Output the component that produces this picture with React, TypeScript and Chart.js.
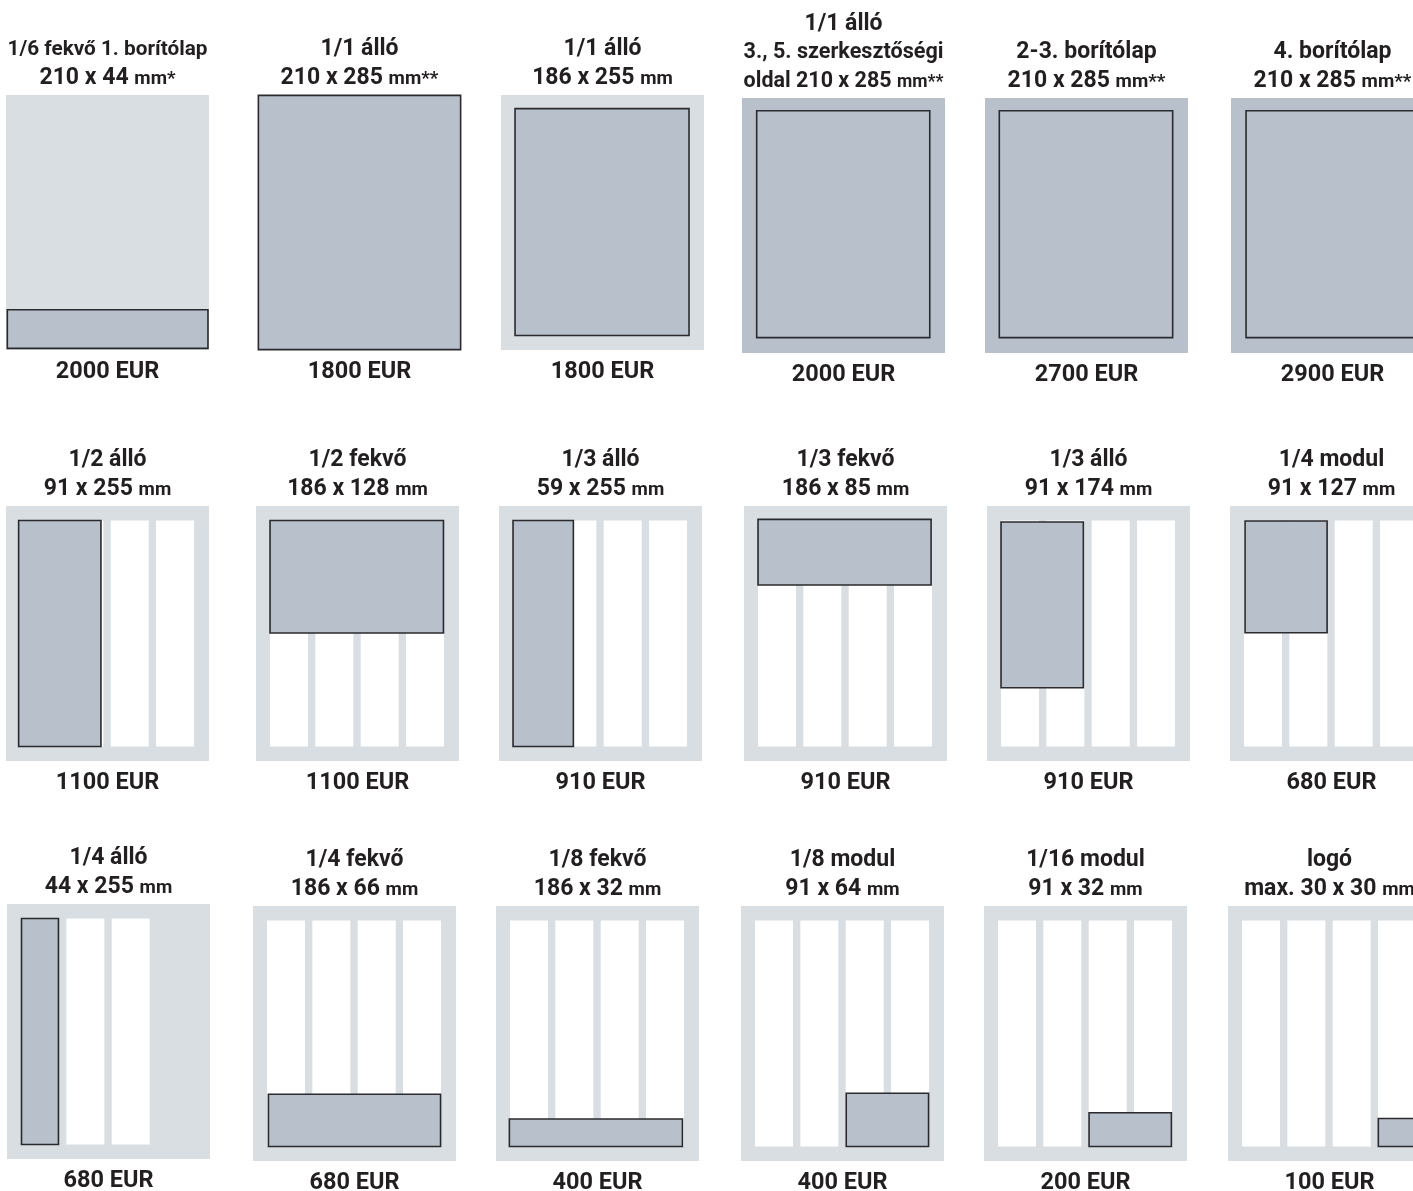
import React, { useEffect, useRef } from "react";
import { Chart, registerables } from "chart.js";

Chart.register(...registerables);

// ---------------- data ----------------
const TITLES: string[][] = [
  ["1/6 fekvő 1. borítólap", "210 x 44 mm*"],
  ["1/1 álló", "210 x 285 mm**"],
  ["1/1 álló", "186 x 255 mm"],
  ["1/1 álló", "3., 5. szerkesztőségi", "oldal 210 x 285 mm**"],
  ["2-3. borítólap", "210 x 285 mm**"],
  ["4. borítólap", "210 x 285 mm**"],
  ["1/2 álló", "91 x 255 mm"],
  ["1/2 fekvő", "186 x 128 mm"],
  ["1/3 álló", "59 x 255 mm"],
  ["1/3 fekvő", "186 x 85 mm"],
  ["1/3 álló", "91 x 174 mm"],
  ["1/4 modul", "91 x 127 mm"],
  ["1/4 álló", "44 x 255 mm"],
  ["1/4 fekvő", "186 x 66 mm"],
  ["1/8 fekvő", "186 x 32 mm"],
  ["1/8 modul", "91 x 64 mm"],
  ["1/16 modul", "91 x 32 mm"],
  ["logó", "max. 30 x 30 mm"],
];

const PRICES: number[] = [
  2000, 1800, 1800, 2000, 2700, 2900,
  1100, 1100, 910, 910, 910, 680,
  680, 680, 400, 400, 200, 100,
];

// page background tone of each diagram
const PAGE_TONE: string[] = [
  "light", "dark", "light", "dark", "dark", "dark",
  "light", "light", "light", "light", "light", "light",
  "light", "light", "light", "light", "light", "light",
];

// number of text columns drawn in the type area
const COLUMN_COUNT: number[] = [
  0, 0, 0, 0, 0, 0,
  4, 4, 4, 4, 4, 4,
  3, 4, 4, 4, 4, 4,
];

// ad rectangle in mm, relative to the 186 x 255 mm type area (as drawn)
const AD_X: number[] = [-13.6, -14.6, 0, 0.7, 0.3, 1.1, -1.5, 0, 0, 0, 0, 1.1, 0.5, 1.5, -0.7, 97.5, 97.3, 145.7];
const AD_Y: number[] = [226, -16, -1, -2, -2, -2, 0, 0, 0, -1.3, 1.7, 0.6, 0, 196, 224, 195, 217, 223.4];
const AD_W: number[] = [214.5, 216.2, 186, 185, 185.3, 185, 88, 185.4, 64.5, 185, 88, 87.7, 39.5, 184, 185, 88, 88, 40.6];
const AD_H: number[] = [43.6, 287, 256, 256, 256, 256, 255, 127, 255, 74, 187, 126, 255, 59, 31, 60, 38, 31.6];

// page geometry (mm) around the type area
const PAGE_X0 = -15;
const PAGE_X1 = 202;
const PAGE_Y0 = -16.4;
const PAGE_Y1 = 271.4;
const TYPE_H = 255;
const COL_W = 40.6;
const COL_GAP = 7.87;

// ---------------- layout / style ----------------
const PANEL_W = 203;
const PANEL_H = 255;
const PANEL_LEFT: number[] = [
  6, 258, 501, 742, 985, 1231,
  6, 256, 499, 744, 987, 1230,
  7, 253, 496, 741, 984, 1228,
];
const PANEL_TOP: number[] = [
  95, 95, 95, 98, 98, 98,
  506, 506, 506, 506, 506, 506,
  904, 906, 906, 906, 906, 906,
];
const PAD_X = 24;
const PAD_TOP = 96;
const PAD_BOTTOM = 44;

const LIGHT = "#d9dee3";
const DARK = "#b8c1cb";
const BORDER = "#2b2a2e";
const WHITE = "#ffffff";
const TEXT = "#231f20";
const FONT = "Roboto, 'Open Sans', sans-serif";
const WEIGHT = 700;
const TITLE_SIZE = 23;
const PRICE_SIZE = 23.5;

function rect(x: number, y: number, w: number, h: number) {
  return [
    { x, y },
    { x: x + w, y },
    { x: x + w, y: y + h },
    { x, y: y + h },
    { x, y },
  ];
}

function drawLine(ctx: CanvasRenderingContext2D, text: string, cx: number, baseline: number, size: number, maxW: number) {
  const tokens = text.split(" ");
  const measure = (k: number) => {
    const parts = tokens.map((t) => {
      const s = (/^mm/.test(t) ? size * 0.82 : size) * k;
      ctx.font = `${WEIGHT} ${s}px ${FONT}`;
      return { t, s, w: ctx.measureText(t).width };
    });
    ctx.font = `${WEIGHT} ${size * k}px ${FONT}`;
    const sp = ctx.measureText(" ").width;
    const total = parts.reduce((a, p) => a + p.w, 0) + sp * (parts.length - 1);
    return { parts, sp, total };
  };
  let m = measure(1);
  if (m.total > maxW) m = measure(maxW / m.total);
  let x = cx - m.total / 2;
  ctx.fillStyle = TEXT;
  ctx.textAlign = "left";
  ctx.textBaseline = "alphabetic";
  for (const p of m.parts) {
    ctx.font = `${WEIGHT} ${p.s}px ${FONT}`;
    ctx.fillText(p.t, x, baseline);
    x += p.w + m.sp;
  }
}

function Panel({ idx }: { idx: number }) {
  const ref = useRef<HTMLCanvasElement>(null);
  const cw = PANEL_W + 2 * PAD_X;
  const ch = PAD_TOP + PANEL_H + PAD_BOTTOM;

  useEffect(() => {
    if (!ref.current) return;
    const datasets: any[] = [];
    const base = { showLine: true, pointRadius: 0, pointHoverRadius: 0, tension: 0, clip: false };
    // ad (on top)
    datasets.push({
      ...base,
      data: rect(AD_X[idx], AD_Y[idx], AD_W[idx], AD_H[idx]),
      backgroundColor: DARK,
      borderColor: BORDER,
      borderWidth: 1.6,
      borderJoinStyle: "miter",
      borderCapStyle: "square",
      fill: "shape",
      order: 0,
    });
    // columns
    for (let c = 0; c < COLUMN_COUNT[idx]; c++) {
      datasets.push({
        ...base,
        data: rect(c * (COL_W + COL_GAP), 0, COL_W, TYPE_H),
        backgroundColor: WHITE,
        borderColor: "rgba(0,0,0,0)",
        borderWidth: 0,
        fill: "shape",
        order: 1,
      });
    }
    // page
    datasets.push({
      ...base,
      data: rect(PAGE_X0, PAGE_Y0, PAGE_X1 - PAGE_X0, PAGE_Y1 - PAGE_Y0),
      backgroundColor: PAGE_TONE[idx] === "dark" ? DARK : LIGHT,
      borderColor: "rgba(0,0,0,0)",
      borderWidth: 0,
      fill: "shape",
      order: 2,
    });

    const textPlugin = {
      id: "labels" + idx,
      afterDraw(chart: any) {
        const ctx = chart.ctx as CanvasRenderingContext2D;
        const { left, right, top, bottom } = chart.chartArea;
        const cx = (left + right) / 2;
        const lines = TITLES[idx];
        const n = lines.length;
        ctx.save();
        lines.forEach((line, i) => {
          drawLine(ctx, line, cx, top - 11 - 28.7 * (n - 1 - i), TITLE_SIZE, 200);
        });
        drawLine(ctx, `${PRICES[idx]} EUR`, cx, bottom + 27.5, PRICE_SIZE, 220);
        ctx.restore();
      },
    };

    const chart = new Chart(ref.current, {
      type: "scatter",
      data: { datasets },
      options: {
        animation: false,
        responsive: false,
        events: [],
        layout: { padding: { left: PAD_X, right: PAD_X, top: PAD_TOP, bottom: PAD_BOTTOM } },
        scales: {
          x: { type: "linear", min: PAGE_X0, max: PAGE_X1, display: false },
          y: { type: "linear", min: PAGE_Y0, max: PAGE_Y1, reverse: true, display: false },
        },
        plugins: { legend: { display: false }, tooltip: { enabled: false }, title: { display: false } },
      },
      plugins: [textPlugin],
    } as any);
    return () => chart.destroy();
  }, [idx]);

  return (
    <div
      style={{
        position: "absolute",
        left: PANEL_LEFT[idx] - PAD_X,
        top: PANEL_TOP[idx] - PAD_TOP,
        width: cw,
        height: ch,
      }}
    >
      <canvas ref={ref} width={cw} height={ch} style={{ width: cw, height: ch, display: "block" }} />
    </div>
  );
}

export default function App() {
  return (
    <div
      style={{
        position: "absolute",
        left: 0,
        top: 0,
        width: 1413,
        height: 1191,
        overflow: "hidden",
        background: "#ffffff",
      }}
    >
      {TITLES.map((_, i) => (
        <Panel key={i} idx={i} />
      ))}
    </div>
  );
}
